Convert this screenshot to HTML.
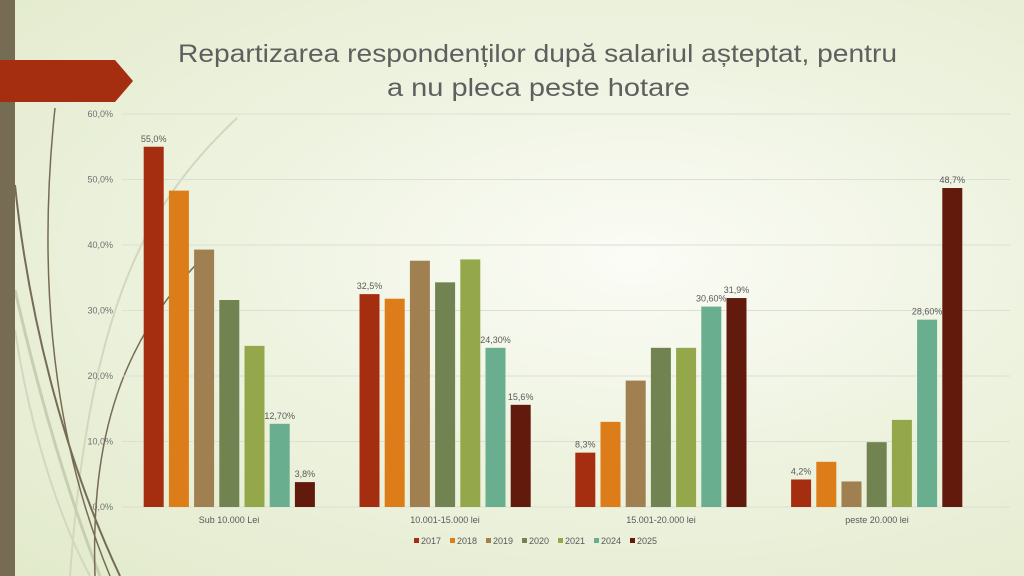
<!DOCTYPE html>
<html><head><meta charset="utf-8"><style>
html,body{margin:0;padding:0}
body{width:1024px;height:576px;overflow:hidden;font-family:"Liberation Sans",sans-serif;
background:radial-gradient(ellipse at 62% 45%,#fbfcf6 0%,#eef3e0 45%,#e2eacb 100%);}
</style></head><body>
<svg width="1024" height="576" viewBox="0 0 1024 576" xmlns="http://www.w3.org/2000/svg" style="position:absolute;left:0;top:0">
<g fill="none">
<path d="M237,118 C150,200 90,300 70,576" stroke="#d3d8bd" stroke-width="2"/>
<path d="M55,108 C40,250 45,420 110,576" stroke="#766c53" stroke-width="1.5"/>
<path d="M15,185 C30,330 70,470 120,576" stroke="#766c53" stroke-width="2"/>
<path d="M15,290 C40,400 70,500 100,576" stroke="#c8ceb0" stroke-width="3"/>
<path d="M15,330 C30,430 60,520 90,576" stroke="#d3d8bd" stroke-width="2"/>
<path d="M210,250 C130,330 90,420 95,576" stroke="#766c53" stroke-width="1.5"/>
</g>
<rect x="0" y="0" width="15" height="576" fill="#766c53"/>
<polygon points="0,60 115,60 133,81 115,102 0,102" fill="#a52d10"/>
<text x="178" y="62" font-size="25" fill="#5f5f5f" textLength="719" lengthAdjust="spacingAndGlyphs">Repartizarea respondenților după salariul așteptat, pentru</text>
<text x="387" y="96" font-size="25" fill="#5f5f5f" textLength="303" lengthAdjust="spacingAndGlyphs">a nu pleca peste hotare</text>
<g stroke="#dcdfd4" stroke-width="1">
<line x1="122" y1="114" x2="1010" y2="114"/><line x1="122" y1="179.5" x2="1010" y2="179.5"/>
<line x1="122" y1="245" x2="1010" y2="245"/><line x1="122" y1="310.5" x2="1010" y2="310.5"/>
<line x1="122" y1="376" x2="1010" y2="376"/><line x1="122" y1="441.5" x2="1010" y2="441.5"/>
<line x1="122" y1="507" x2="1010" y2="507"/>
</g>
<g font-size="9" fill="#707070" text-anchor="end">
<text x="113" y="117">60,0%</text><text x="113" y="182.5">50,0%</text><text x="113" y="248">40,0%</text>
<text x="113" y="313.5">30,0%</text><text x="113" y="379">20,0%</text><text x="113" y="444.5">10,0%</text><text x="113" y="510">0,0%</text>
</g>
<g id="bars"></g>
<g font-size="9" fill="#595959" text-anchor="middle">
<text x="229" y="523">Sub 10.000 Lei</text><text x="445" y="523">10.001-15.000 lei</text>
<text x="661" y="523">15.001-20.000 lei</text><text x="877" y="523">peste 20.000 lei</text>
</g>
<g font-size="9" fill="#595959">
<rect x="414" y="538" width="5" height="5" fill="#a52d10"/><text x="421" y="544">2017</text>
<rect x="450" y="538" width="5" height="5" fill="#dd7d19"/><text x="457" y="544">2018</text>
<rect x="486" y="538" width="5" height="5" fill="#a08050"/><text x="493" y="544">2019</text>
<rect x="522" y="538" width="5" height="5" fill="#718350"/><text x="529" y="544">2020</text>
<rect x="558" y="538" width="5" height="5" fill="#94a84b"/><text x="565" y="544">2021</text>
<rect x="594" y="538" width="5" height="5" fill="#6aae90"/><text x="601" y="544">2024</text>
<rect x="630" y="538" width="5" height="5" fill="#621a0c"/><text x="637" y="544">2025</text>
</g>
</svg>
<script>
var cols=["#a52d10","#dd7d19","#a08050","#718350","#94a84b","#6aae90","#621a0c"];
var data=[[55,48.3,39.3,31.6,24.6,12.7,3.8],[32.5,31.8,37.6,34.3,37.8,24.3,15.6],[8.3,13.0,19.3,24.3,24.3,30.6,31.9],[4.2,6.9,3.9,9.9,13.3,28.6,48.7]];
var labels=[["55,0%",null,null,null,null,"12,70%","3,8%"],["32,5%",null,null,null,null,"24,30%","15,6%"],["8,3%",null,null,null,null,"30,60%","31,9%"],["4,2%",null,null,null,null,"28,60%","48,7%"]];
var g=document.getElementById("bars"),s="";
for(var i=0;i<4;i++)for(var k=0;k<7;k++){
var x=143.7+i*215.8+k*25.2,h=data[i][k]*6.55,y=507-h;
s+='<rect x="'+x+'" y="'+y+'" width="20" height="'+h+'" fill="'+cols[k]+'"/>';
if(labels[i][k])s+='<text x="'+(x+10)+'" y="'+(y-5)+'" font-size="9" fill="#595959" text-anchor="middle">'+labels[i][k]+'</text>';}
g.innerHTML=s;
</script>
</body></html>
